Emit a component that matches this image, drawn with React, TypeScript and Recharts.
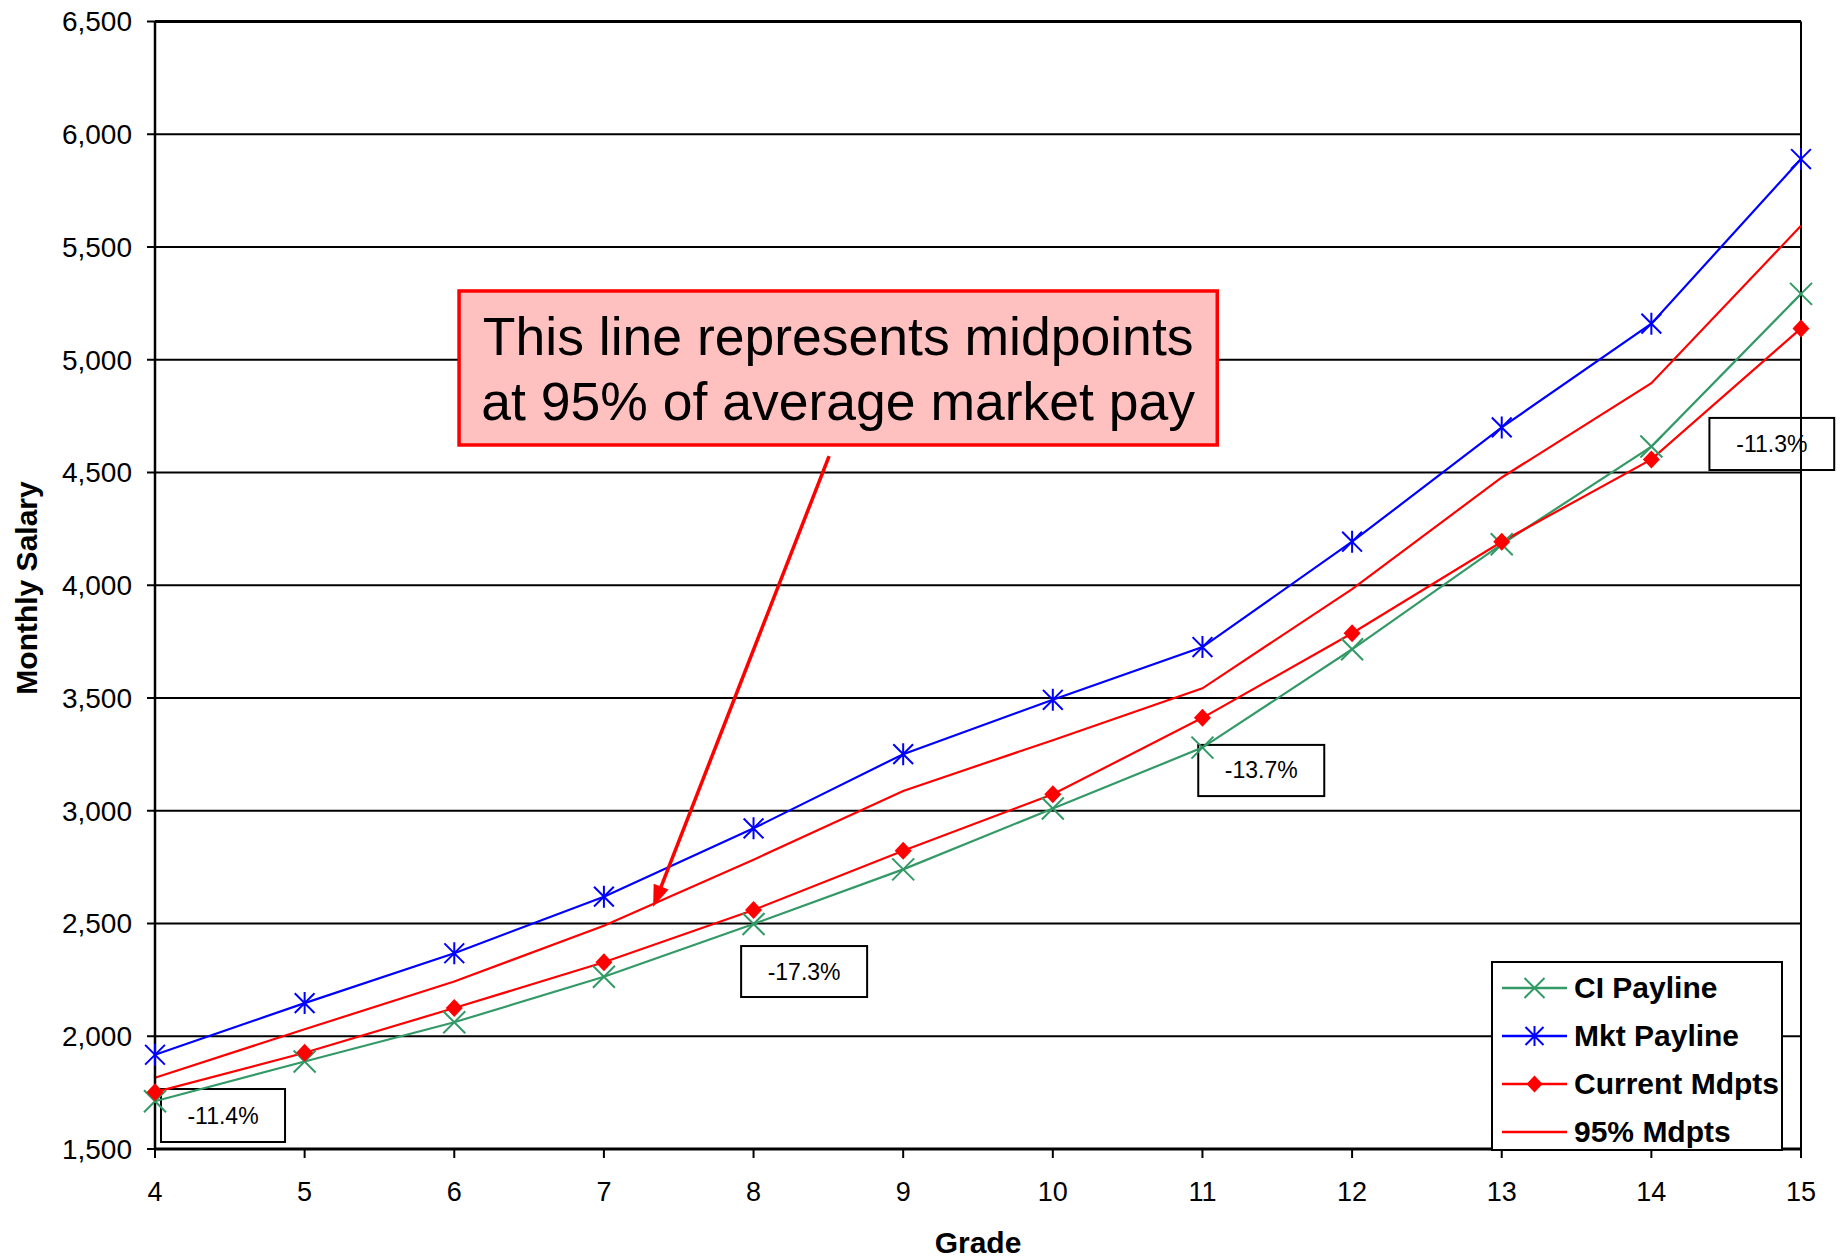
import React from 'react';
import {
  LineChart,
  Line,
  XAxis,
  YAxis,
  CartesianGrid,
  ReferenceLine,
  ReferenceArea,
  Legend,
  Label,
} from 'recharts';

// ---------- data ----------
const grades = [4, 5, 6, 7, 8, 9, 10, 11, 12, 13, 14, 15];
const ciPayline = [1712, 1888, 2062, 2264, 2498, 2740, 3010, 3280, 3716, 4182, 4615, 5292];
const mktPayline = [1918, 2147, 2368, 2619, 2922, 3251, 3492, 3726, 4193, 4700, 5160, 5890];
const currentMdpts = [1752, 1927, 2125, 2328, 2560, 2823, 3073, 3412, 3787, 4193, 4558, 5139];
const mdpts95 = [1816, 2031, 2243, 2490, 2783, 3088, 3313, 3543, 3983, 4478, 4896, 5594];
const yTicks = [1500, 2000, 2500, 3000, 3500, 4000, 4500, 5000, 5500, 6000, 6500];
const seriesNames = ['CI Payline', 'Mkt Payline', 'Current Mdpts', '95% Mdpts'];
const gapLabels = ['-11.4%', '-17.3%', '-13.7%', '-11.3%'];
const calloutLines = ['This line represents midpoints', 'at 95% of average market pay'];

// ---------- annotation placement (data coordinates) ----------
const gapBoxes = [
  { x1: 4.04, x2: 4.869, y1: 1531, y2: 1766 },
  { x1: 7.917, x2: 8.759, y1: 2174, y2: 2400 },
  { x1: 10.972, x2: 11.814, y1: 3065, y2: 3292 },
  { x1: 14.388, x2: 15.222, y1: 4511, y2: 4742 },
];
const calloutBox = { x1: 6.032, x2: 11.099, y1: 4622, y2: 5305 };
const arrowSeg = [
  { x: 8.505, y: 4573 },
  { x: 7.329, y: 2573 },
];

const data = grades.map((g, i) => ({
  grade: g,
  ci: ciPayline[i],
  mkt: mktPayline[i],
  cur: currentMdpts[i],
  p95: mdpts95[i],
}));

const FONT = '"Liberation Sans", Arial, Helvetica, sans-serif';
const GREEN = '#339966';
const BLUE = '#0000FF';
const RED = '#FF0000';

// ---------- markers ----------
const xPath = (cx: number, cy: number, s: number) =>
  `M${cx - s},${cy - s}L${cx + s},${cy + s}M${cx - s},${cy + s}L${cx + s},${cy - s}`;
const starPath = (cx: number, cy: number, s: number) =>
  `${xPath(cx, cy, s * 0.9)}M${cx},${cy - s}L${cx},${cy + s}`;
const diamondPath = (cx: number, cy: number, w: number, h: number) =>
  `M${cx},${cy - h}L${cx + w},${cy}L${cx},${cy + h}L${cx - w},${cy}Z`;

const XDot = (props: any) => {
  const { cx, cy, index } = props;
  if (cx == null || cy == null) return <g key={`x-${index}`} />;
  return <path key={`x-${index}`} d={xPath(cx, cy, 11)} stroke={GREEN} strokeWidth={2} fill="none" />;
};
const StarDot = (props: any) => {
  const { cx, cy, index } = props;
  if (cx == null || cy == null) return <g key={`s-${index}`} />;
  return <path key={`s-${index}`} d={starPath(cx, cy, 11)} stroke={BLUE} strokeWidth={2} fill="none" />;
};
const DiamondDot = (props: any) => {
  const { cx, cy, index } = props;
  if (cx == null || cy == null) return <g key={`d-${index}`} />;
  return <path key={`d-${index}`} d={diamondPath(cx, cy, 8.5, 9)} fill={RED} stroke="none" />;
};

// ---------- shapes ----------
const makeGapShape = (label: string) => (props: any) => {
  const { x, y, width, height } = props;
  return (
    <g>
      <rect x={x} y={y} width={width} height={height} fill="#FFFFFF" stroke="#000000" strokeWidth={2} />
      <text
        x={x + width / 2}
        y={y + height / 2 + 8}
        textAnchor="middle"
        fontFamily={FONT}
        fontSize={23}
        fill="#000"
      >
        {label}
      </text>
    </g>
  );
};

const CalloutShape = (props: any) => {
  const { x, y, width, height } = props;
  return (
    <g>
      <rect x={x} y={y} width={width} height={height} fill="#FFC0C0" stroke={RED} strokeWidth={3.5} />
      {calloutLines.map((t, i) => (
        <text
          key={i}
          x={x + width / 2}
          y={y + 64 + i * 65}
          textAnchor="middle"
          fontFamily={FONT}
          fontSize={53.5}
          fill="#000"
        >
          {t}
        </text>
      ))}
    </g>
  );
};

const ArrowShape = (props: any) => {
  const { x1, y1, x2, y2 } = props;
  if ([x1, y1, x2, y2].some((v) => v == null || isNaN(v))) return <g />;
  const dx = x2 - x1;
  const dy = y2 - y1;
  const len = Math.sqrt(dx * dx + dy * dy);
  const ux = dx / len;
  const uy = dy / len;
  const headLen = 22;
  const headW = 8;
  const bx = x2 - ux * headLen;
  const by = y2 - uy * headLen;
  const px = -uy;
  const py = ux;
  return (
    <g>
      <line x1={x1} y1={y1} x2={bx + ux * 4} y2={by + uy * 4} stroke={RED} strokeWidth={3.5} />
      <polygon
        points={`${x2},${y2} ${bx + px * headW},${by + py * headW} ${bx - px * headW},${by - py * headW}`}
        fill={RED}
      />
    </g>
  );
};

// ---------- legend ----------
const legendRows = [
  { name: seriesNames[0], color: GREEN, marker: 'x' },
  { name: seriesNames[1], color: BLUE, marker: 'star' },
  { name: seriesNames[2], color: RED, marker: 'diamond' },
  { name: seriesNames[3], color: RED, marker: 'none' },
];

const renderLegend = () => (
  <div
    style={{
      width: 292,
      height: 190,
      boxSizing: 'border-box',
      border: '2px solid #000',
      background: '#fff',
    }}
  >
    <svg width={288} height={186} style={{ display: 'block' }}>
      {legendRows.map((r, i) => {
        const cy = 25 + i * 48;
        const cx = 41.5;
        return (
          <g key={r.name}>
            <line x1={9} y1={cy} x2={74} y2={cy} stroke={r.color} strokeWidth={2.5} />
            {r.marker === 'x' && <path d={xPath(cx, cy, 10)} stroke={r.color} strokeWidth={2} fill="none" />}
            {r.marker === 'star' && <path d={starPath(cx, cy, 10)} stroke={r.color} strokeWidth={2} fill="none" />}
            {r.marker === 'diamond' && <path d={diamondPath(cx, cy, 8, 8.5)} fill={r.color} />}
            <text x={81} y={cy + 10} fontFamily={FONT} fontWeight="bold" fontSize={30} fill="#000">
              {r.name}
            </text>
          </g>
        );
      })}
    </svg>
  </div>
);

export default function App() {
  return (
    <div style={{ position: 'absolute', left: 0, top: 0, width: 1842, height: 1258, fontFamily: FONT }}>
      <LineChart
        width={1842}
        height={1258}
        data={data}
        margin={{ top: 21.5, right: 41, bottom: 49, left: 0 }}
      >
        <CartesianGrid horizontal vertical={false} stroke="#000" strokeWidth={2} />
        <XAxis
          dataKey="grade"
          type="number"
          domain={[4, 15]}
          ticks={grades}
          interval={0}
          height={60}
          axisLine={{ stroke: '#000', strokeWidth: 3 }}
          tickLine={{ stroke: '#000', strokeWidth: 2 }}
          tickSize={9}
          tickMargin={24}
          tick={{ fill: '#000', fontSize: 27, fontFamily: FONT }}
        >
          <Label
            content={(p: any) => {
              const vb = p.viewBox || { x: 155, y: 1149, width: 1646 };
              return (
                <text
                  x={vb.x + vb.width / 2}
                  y={vb.y + 104}
                  textAnchor="middle"
                  fontFamily={FONT}
                  fontWeight="bold"
                  fontSize={30}
                  fill="#000"
                >
                  Grade
                </text>
              );
            }}
          />
        </XAxis>
        <YAxis
          type="number"
          domain={[1500, 6500]}
          ticks={yTicks}
          interval={0}
          width={155}
          axisLine={{ stroke: '#000', strokeWidth: 2.5 }}
          tickLine={{ stroke: '#000', strokeWidth: 2 }}
          tickSize={8}
          tickMargin={15}
          tick={{ fill: '#000', fontSize: 28, fontFamily: FONT }}
          tickFormatter={(v: number) => v.toLocaleString('en-US')}
        >
          <Label
            content={(p: any) => {
              const vb = p.viewBox || { x: 0, y: 21.5 };
              const x = vb.x + 37;
              const y = vb.y + 566.5;
              return (
                <text
                  x={x}
                  y={y}
                  transform={`rotate(-90, ${x}, ${y})`}
                  textAnchor="middle"
                  fontFamily={FONT}
                  fontWeight="bold"
                  fontSize={30}
                  fill="#000"
                >
                  Monthly Salary
                </text>
              );
            }}
          />
        </YAxis>
        <ReferenceLine x={15} stroke="#000" strokeWidth={2} />
        <ReferenceLine y={6500} stroke="#000" strokeWidth={3} />

        <Line
          dataKey="ci"
          name={seriesNames[0]}
          stroke={GREEN}
          strokeWidth={2.2}
          type="linear"
          dot={XDot}
          activeDot={false}
          isAnimationActive={false}
        />
        <Line
          dataKey="mkt"
          name={seriesNames[1]}
          stroke={BLUE}
          strokeWidth={2.2}
          type="linear"
          dot={StarDot}
          activeDot={false}
          isAnimationActive={false}
        />
        <Line
          dataKey="cur"
          name={seriesNames[2]}
          stroke={RED}
          strokeWidth={2.2}
          type="linear"
          dot={DiamondDot}
          activeDot={false}
          isAnimationActive={false}
        />
        <Line
          dataKey="p95"
          name={seriesNames[3]}
          stroke={RED}
          strokeWidth={2.2}
          type="linear"
          dot={false}
          activeDot={false}
          isAnimationActive={false}
        />

        {gapBoxes.map((b, i) => (
          <ReferenceArea
            key={`gap-${i}`}
            x1={b.x1}
            x2={b.x2}
            y1={b.y1}
            y2={b.y2}
            ifOverflow="visible"
            shape={makeGapShape(gapLabels[i])}
          />
        ))}
        <ReferenceArea
          x1={calloutBox.x1}
          x2={calloutBox.x2}
          y1={calloutBox.y1}
          y2={calloutBox.y2}
          ifOverflow="visible"
          shape={CalloutShape}
        />
        <ReferenceLine segment={arrowSeg} ifOverflow="visible" shape={ArrowShape} />

        <Legend
          layout="vertical"
          align="center"
          verticalAlign="middle"
          wrapperStyle={{ left: 1491, top: 961, width: 292, height: 190 }}
          content={renderLegend}
        />
      </LineChart>
    </div>
  );
}
